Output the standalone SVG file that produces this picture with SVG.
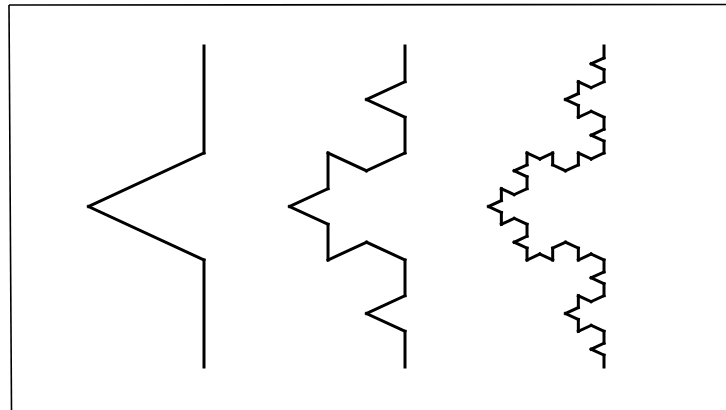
<svg xmlns="http://www.w3.org/2000/svg" xmlns:xlink="http://www.w3.org/1999/xlink" width="726" height="410" viewBox="0 0 726 410">
<style>
.seg{fill:none;stroke:#000;stroke-width:3;stroke-linecap:square;vector-effect:non-scaling-stroke}
.frame{fill:none;stroke:#000;stroke-width:1.6}
</style>
<defs>
<path id="k0" class="seg" d="M0,0 L1,0"/>
<g id="k1">
<use href="#k0" transform="scale(0.3333333)"/>
<use href="#k0" transform="translate(0.3333333,0) rotate(-60) scale(0.3333333)"/>
<use href="#k0" transform="translate(0.5,-0.2886751) rotate(60) scale(0.3333333)"/>
<use href="#k0" transform="translate(0.6666667,0) scale(0.3333333)"/>
</g>
<g id="k2">
<use href="#k1" transform="scale(0.3333333)"/>
<use href="#k1" transform="translate(0.3333333,0) rotate(-60) scale(0.3333333)"/>
<use href="#k1" transform="translate(0.5,-0.2886751) rotate(60) scale(0.3333333)"/>
<use href="#k1" transform="translate(0.6666667,0) scale(0.3333333)"/>
</g>
<g id="k3">
<use href="#k2" transform="scale(0.3333333)"/>
<use href="#k2" transform="translate(0.3333333,0) rotate(-60) scale(0.3333333)"/>
<use href="#k2" transform="translate(0.5,-0.2886751) rotate(60) scale(0.3333333)"/>
<use href="#k2" transform="translate(0.6666667,0) scale(0.3333333)"/>
</g>
</defs>
<rect width="726" height="410" fill="#fff"/>
<g id="frame">
<line class="frame" x1="9" y1="5" x2="726" y2="4.5"/>
<line class="frame" x1="9" y1="5" x2="11.5" y2="410"/>
</g>
<g id="curve-level1"><use href="#k1" transform="matrix(0,321,400,0,204,46)"/></g>
<g id="curve-level2"><use href="#k2" transform="matrix(0,321,400,0,405,46)"/></g>
<g id="curve-level3"><use href="#k3" transform="matrix(0,321,400,0,604,46)"/></g>
</svg>
